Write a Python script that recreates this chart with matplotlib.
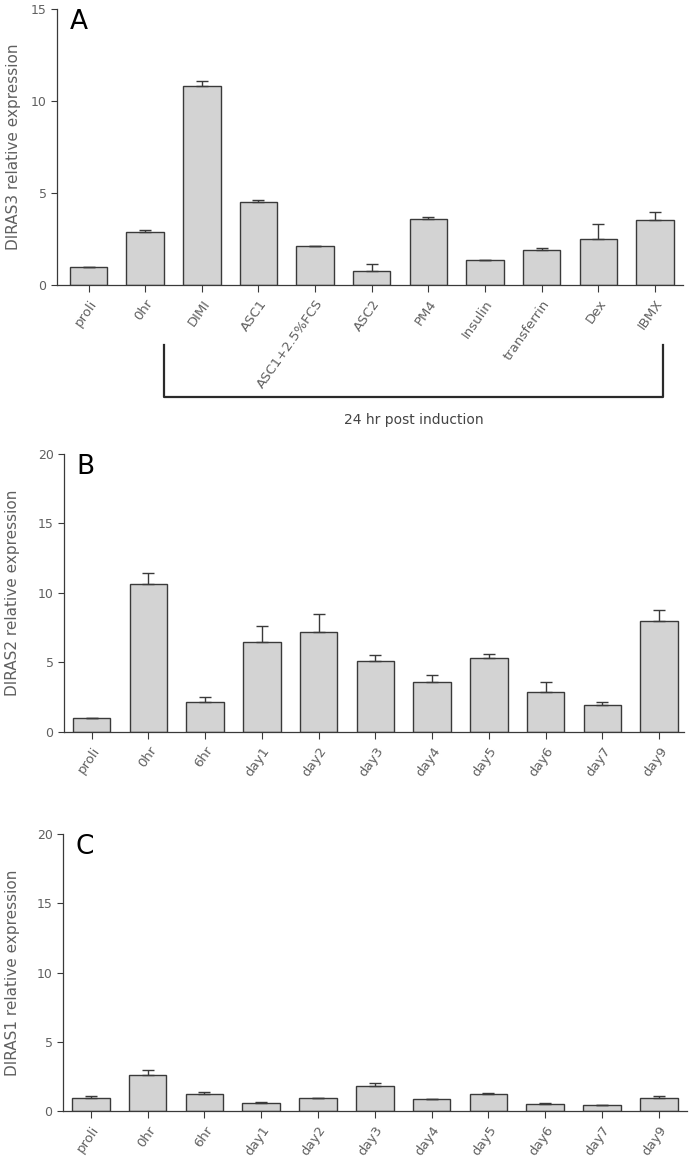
import matplotlib
matplotlib.use("Agg")
from matplotlib import pyplot as plt
from matplotlib import transforms

# Panel A: DIRAS3, 24 hr post induction treatments
cats_a = ["proli", "0hr", "DIMI", "ASC1", "ASC1+2.5%FCS", "ASC2", "PM4",
          "Insulin", "transferrin", "Dex", "IBMX"]
vals_a = [0.96, 2.9, 10.8, 4.49, 2.12, 0.78, 3.6, 1.34, 1.9, 2.52, 3.53]
errs_a = [0.0, 0.1, 0.28, 0.1, 0.0, 0.34, 0.09, 0.0, 0.08, 0.78, 0.42]

# Panel B: DIRAS2 time course
cats_time = ["proli", "0hr", "6hr", "day1", "day2", "day3", "day4",
             "day5", "day6", "day7", "day9"]
vals_b = [1.0, 10.62, 2.16, 6.48, 7.2, 5.09, 3.58, 5.29, 2.88, 1.9, 8.0]
errs_b = [0.0, 0.79, 0.34, 1.12, 1.3, 0.41, 0.5, 0.33, 0.7, 0.22, 0.79]

# Panel C: DIRAS1 time course
vals_c = [0.96, 2.6, 1.23, 0.6, 0.92, 1.8, 0.84, 1.25, 0.53, 0.43, 0.96]
errs_c = [0.1, 0.34, 0.12, 0.07, 0.04, 0.2, 0.02, 0.07, 0.07, 0.01, 0.12]

GRAY_TXT = "#606060"
BAR_FILL = "#d3d3d3"
EDGE = "#3a3a3a"

plt.rcParams['font.family'] = ['DejaVu Sans']

fig = plt.figure(figsize=(6.89, 11.58), dpi=100)


def panel(rect, cats, vals, errs, ymax, ylabel, letter, xlim, label_x):
    ax = fig.add_axes(rect)
    xs = list(range(len(cats)))
    ax.bar(xs, vals, width=0.66, color=BAR_FILL, edgecolor=EDGE, linewidth=1.0, zorder=2)
    lower = [0] * len(errs)
    ax.errorbar(xs, vals, yerr=[lower, errs], fmt='none', ecolor=EDGE,
                elinewidth=1.0, capsize=4.5, capthick=1.0, zorder=3)
    ax.set_ylim(0, ymax)
    ax.set_yticks(range(0, ymax + 1, 5))
    ax.set_xlim(*xlim)
    ax.set_xticks(xs)
    ax.set_xticklabels(cats, rotation=55, ha='right', rotation_mode='anchor',
                       fontsize=9.5, color=GRAY_TXT)
    for lab in ax.get_yticklabels():
        lab.set_color(GRAY_TXT)
        lab.set_fontsize(9)
    ax.tick_params(axis='both', direction='out', length=4, width=0.8, color=EDGE)
    ax.tick_params(axis='x', length=5, pad=4)
    ax.spines['top'].set_visible(False)
    ax.spines['right'].set_visible(False)
    ax.spines['left'].set_color(EDGE)
    ax.spines['bottom'].set_color(EDGE)
    ax.spines['left'].set_linewidth(0.9)
    ax.spines['bottom'].set_linewidth(0.9)
    ax.set_ylabel(ylabel, fontsize=11, color=GRAY_TXT)
    ax.yaxis.set_label_coords(label_x, 0.5)
    ax.text(0.02, 1.0, letter, transform=ax.transAxes, fontsize=19,
            va='top', ha='left', color='black')
    return ax


ax_a = panel([0.0827, 0.754, 0.909, 0.2383], cats_a, vals_a, errs_a, 15,
             "DIRAS3 relative expression", "A", (-0.557, 10.5), -0.058)

# bracket marking the 24 hr post induction group
trans = transforms.blended_transform_factory(ax_a.transData, ax_a.transAxes)
ax_a.plot([1.34, 1.34, 10.15, 10.15], [-0.217, -0.406, -0.406, -0.217],
          transform=trans, color="#2a2a2a", linewidth=1.6, clip_on=False)
ax_a.text(5.75, -0.49, "24 hr post induction", transform=trans,
          ha='center', va='center', fontsize=10, color="#444444")

panel([0.0929, 0.3681, 0.9, 0.2398], cats_time, vals_b, errs_b, 20,
      "DIRAS2 relative expression", "B", (-0.486, 10.44), -0.071)

panel([0.0914, 0.0406, 0.906, 0.239], cats_time, vals_c, errs_c, 20,
      "DIRAS1 relative expression", "C", (-0.49, 10.5), -0.069)

fig.savefig("out.png", dpi=100)
